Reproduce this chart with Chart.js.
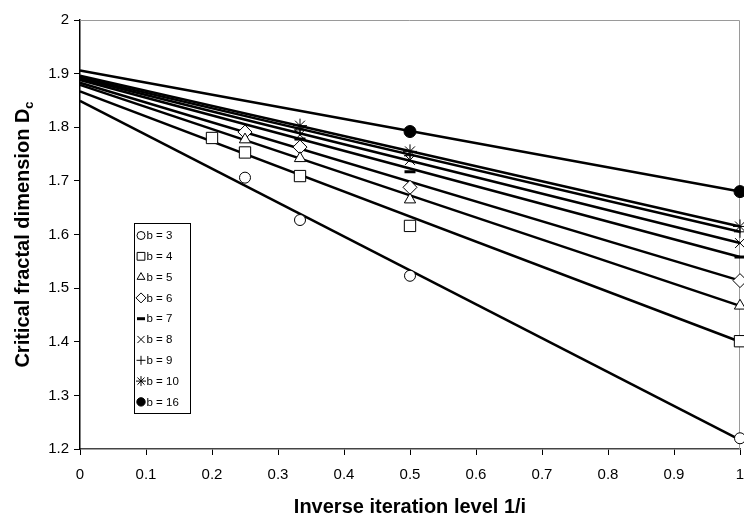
<!DOCTYPE html>
<html>
<head>
<meta charset="utf-8">
<script src="https://cdn.jsdelivr.net/npm/chart.js"></script>
<style>
  html, body { margin: 0; padding: 0; background: #fff; }
  #wrap { width: 744px; height: 517px; }
</style>
</head>
<body>
<div id="wrap"><canvas id="chart" width="744" height="517"></canvas></div>
<script>
// inverse iteration level 1/i (common x positions, null = no point)
const inverseLevels = [0.2, 0.25, 1 / 3, 0.5, 1];

// critical fractal dimension per branching number b
const dcB3  = [null, 1.706, 1.627, 1.523, 1.220];
const dcB4  = [1.780, 1.753, 1.709, 1.616, 1.401];
const dcB5  = [null, 1.777, 1.742, 1.665, 1.467];
const dcB6  = [null, 1.791, 1.763, 1.688, 1.514];
const dcB7  = [null, null, 1.778, 1.717, 1.558];
const dcB8  = [null, null, 1.786, 1.739, 1.584];
const dcB9  = [null, null, 1.795, 1.747, 1.605];
const dcB10 = [null, null, 1.803, 1.755, 1.615];
const dcB16 = [null, null, null, 1.792, 1.680];

const seriesLabels = ['b = 3', 'b = 4', 'b = 5', 'b = 6', 'b = 7', 'b = 8', 'b = 9', 'b = 10', 'b = 16'];
const seriesValues = [dcB3, dcB4, dcB5, dcB6, dcB7, dcB8, dcB9, dcB10, dcB16];

// linear trend lines read at 1/i = 0 and 1/i = 1
const trendAt0 = [1.849, 1.867, 1.879, 1.883, 1.888, 1.891, 1.893, 1.896, 1.906];
const trendAt1 = [1.217, 1.400, 1.467, 1.514, 1.558, 1.584, 1.605, 1.615, 1.680];

const markerStyles = ['circle', 'rect', 'triangle', 'rectRot', 'line', 'crossRot', 'cross', 'star', 'circle'];
const markerFills  = ['#fff', '#fff', '#fff', '#fff', '#000', '#fff', '#fff', '#fff', '#000'];
const markerSizes  = [5.5, 8, 6.5, 7, 5.5, 7, 6, 7, 6];
const legendSizes  = [4, 5.5, 4.5, 5, 4, 5, 4.5, 5, 4.2];

const FONT = '"Liberation Sans", Arial, sans-serif';

const datasets = [];
seriesValues.forEach((vals, i) => {
  const pts = [];
  vals.forEach((v, k) => { if (v !== null) pts.push({ x: inverseLevels[k], y: v }); });
  datasets.push({
    label: seriesLabels[i],
    data: pts,
    showLine: false,
    pointStyle: markerStyles[i],
    pointRadius: markerSizes[i],
    pointBackgroundColor: markerFills[i],
    pointBorderColor: '#000',
    pointBorderWidth: markerStyles[i] === 'line' ? 3 : 1,
    clip: false,
    order: 1
  });
});
seriesValues.forEach((vals, i) => {
  datasets.push({
    label: 'trend ' + seriesLabels[i],
    data: [{ x: 0, y: trendAt0[i] }, { x: 1, y: trendAt1[i] }],
    showLine: true,
    borderColor: '#000',
    borderWidth: 2.5,
    pointRadius: 0,
    clip: false,
    order: 2
  });
});

const framePlugin = {
  id: 'frame',
  beforeDatasetsDraw(chart) {
    const { ctx, chartArea: a } = chart;
    ctx.save();
    ctx.strokeStyle = '#9a9a9a';
    ctx.lineWidth = 1;
    ctx.beginPath();
    ctx.moveTo(a.left, a.top + 0.5);
    ctx.lineTo(a.right - 0.5, a.top + 0.5);
    ctx.lineTo(a.right - 0.5, a.bottom);
    ctx.stroke();
    ctx.restore();
  },
  afterDraw(chart) {
    const { ctx, chartArea: a } = chart;
    ctx.save();

    // x axis title
    ctx.fillStyle = '#000';
    ctx.font = 'bold 20px ' + FONT;
    ctx.textAlign = 'center';
    ctx.textBaseline = 'middle';
    ctx.fillText('Inverse iteration level 1/i', (a.left + a.right) / 2, 507);

    // y axis title with subscript
    const main = 'Critical fractal dimension D';
    const sub = 'c';
    ctx.translate(23, (a.top + a.bottom) / 2);
    ctx.rotate(-Math.PI / 2);
    ctx.font = 'bold 20px ' + FONT;
    const w1 = ctx.measureText(main).width;
    ctx.font = 'bold 13px ' + FONT;
    const w2 = ctx.measureText(sub).width;
    const x0 = -(w1 + w2) / 2;
    ctx.textAlign = 'left';
    ctx.font = 'bold 20px ' + FONT;
    ctx.fillText(main, x0, 0);
    ctx.font = 'bold 13px ' + FONT;
    ctx.fillText(sub, x0 + w1, 6);
    ctx.restore();

    // legend box
    ctx.save();
    const bx = 134, by = 223, bw = 56, bh = 190;
    ctx.fillStyle = '#fff';
    ctx.fillRect(bx, by, bw, bh);
    ctx.strokeStyle = '#000';
    ctx.lineWidth = 1;
    ctx.strokeRect(bx + 0.5, by + 0.5, bw, bh);
    ctx.font = '11.5px ' + FONT;
    ctx.textAlign = 'left';
    ctx.textBaseline = 'middle';
    seriesLabels.forEach((lab, i) => {
      const cy = 235.5 + i * 20.8;
      ctx.fillStyle = markerFills[i];
      ctx.strokeStyle = '#000';
      ctx.lineWidth = markerStyles[i] === 'line' ? 3 : 1;
      Chart.helpers.drawPoint(ctx, {
        pointStyle: markerStyles[i],
        radius: legendSizes[i],
        rotation: 0,
        borderWidth: ctx.lineWidth
      }, 141, cy);
      ctx.fillStyle = '#000';
      ctx.fillText(lab, 146.5, cy + 0.5);
    });
    ctx.restore();
  }
};

new Chart(document.getElementById('chart').getContext('2d'), {
  type: 'scatter',
  data: { datasets: datasets },
  options: {
    responsive: false,
    animation: false,
    layout: { autoPadding: false, padding: { left: 0, right: 4, top: 20, bottom: 0 } },
    plugins: {
      legend: { display: false },
      tooltip: { enabled: false }
    },
    scales: {
      x: {
        type: 'linear',
        min: 0,
        max: 1,
        ticks: {
          stepSize: 0.1,
          color: '#000',
          font: { family: FONT, size: 15 },
          padding: 11,
          maxRotation: 0,
          callback: v => String(Math.round(v * 10) / 10)
        },
        grid: { drawOnChartArea: false, drawTicks: true, tickLength: 6, color: '#000' },
        border: { display: true, color: '#444', width: 1.5 },
        afterFit: s => { s.height = 68; s.paddingLeft = 0; s.paddingRight = 0; }
      },
      y: {
        type: 'linear',
        min: 1.2,
        max: 2,
        ticks: {
          stepSize: 0.1,
          color: '#000',
          font: { family: FONT, size: 15 },
          padding: 5,
          callback: v => String(Math.round(v * 10) / 10)
        },
        grid: { drawOnChartArea: false, drawTicks: true, tickLength: 6, color: '#000' },
        border: { display: true, color: '#000', width: 1.5 },
        afterFit: s => { s.width = 80; s.paddingTop = 0; s.paddingBottom = 0; }
      }
    }
  },
  plugins: [framePlugin]
});
</script>
</body>
</html>
